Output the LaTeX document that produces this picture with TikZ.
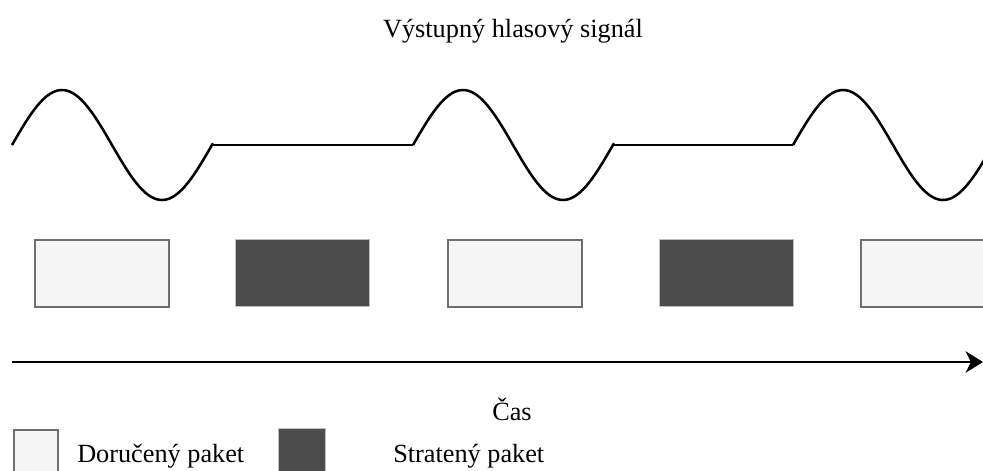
\documentclass[tikz,border=0pt]{standalone}
\usepackage{fontspec}
\setmainfont{Liberation Serif}
\usetikzlibrary{arrows.meta}
\begin{document}
\begin{tikzpicture}[x=0.75pt,y=-0.75pt,
  lbl/.style={font=\fontsize{19.7}{23}\selectfont, inner sep=0pt, text=black},
  okpkt/.style={draw=black!57, fill=black!4, line width=1.6pt, inner sep=0pt, minimum width=134*0.75pt, minimum height=67*0.75pt, anchor=north west},
  lostpkt/.style={draw=black!25, fill=black!70, line width=0.6pt, inner sep=0pt, minimum width=134*0.75pt, minimum height=67*0.75pt, anchor=north west},
  wave/.style={line width=1.9pt, black, line join=round},
]
\useasboundingbox (0,0) rectangle (983,471);
\clip (0,0) rectangle (983,471);
% title
\node[lbl, anchor=base] (title) at (513,37) {Výstupný hlasový signál};
% signal
\draw[wave, domain=12:213, samples=80, variable=\t] plot ({\t},{145-55*sin(1.8*(\t-12))});
\draw[wave] (213,145) -- (413,145);
\draw[wave, domain=413:614, samples=80, variable=\t] plot ({\t},{145-55*sin(1.8*(\t-413))});
\draw[wave] (614,145) -- (793,145);
\draw[wave, domain=793:990, samples=80, variable=\t] plot ({\t},{145-55*sin(1.8*(\t-793))});
% packets
\node[okpkt] (p1) at (34,239) {};
\node[lostpkt] (p2) at (235,239) {};
\node[okpkt] (p3) at (447,239) {};
\node[lostpkt] (p4) at (659,239) {};
\node[okpkt] (p5) at (860,239) {};
% time axis
\coordinate (t0) at (12,362);
\coordinate (t1) at (983,362);
\draw[line width=1.9pt, -{Stealth[length=13pt, width=16pt, inset=4pt]}] (t0) -- (t1);
\node[lbl, anchor=base] (cas) at (512,420) {Čas};
% legend
\node[okpkt, minimum width=44*0.75pt, minimum height=45*0.75pt] (lok) at (13,429) {};
\node[lbl, anchor=base west] (lokt) at (77,462) {Doručený paket};
\node[lostpkt, minimum width=47*0.75pt, minimum height=47*0.75pt] (llost) at (278,428) {};
\node[lbl, anchor=base west] (llostt) at (393,462) {Stratený paket};
\end{tikzpicture}
\end{document}
